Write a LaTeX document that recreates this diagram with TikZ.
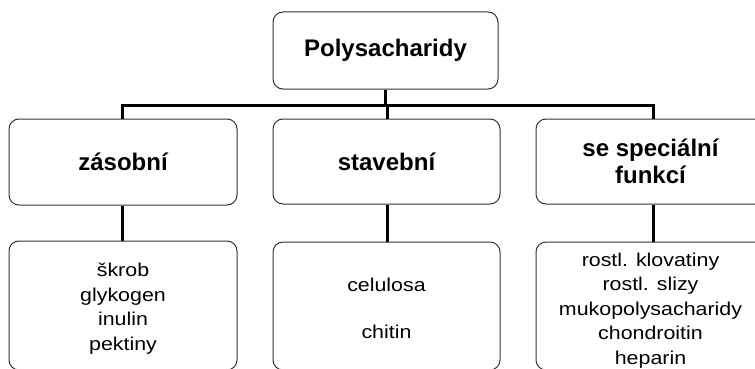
\documentclass[tikz,border=0pt]{standalone}
\usepackage{fontspec}
\setmainfont{Liberation Sans}
\newfontfamily\listfont[FakeStretch=1.15]{Liberation Sans}
\tikzset{
  box/.style={draw=black!80, line width=1pt, rounded corners=10pt, inner sep=0pt, align=center, fill=white},
  head/.style={font=\fontsize{24}{27}\selectfont\bfseries},
  lst/.style={font=\listfont\fontsize{18.6}{24.5}\selectfont},
  conn/.style={line width=3pt, black}
}
\begin{document}
\begin{tikzpicture}[x=1pt,y=-1pt]
\useasboundingbox (0,0) rectangle (755,369);
\clip (0,0) rectangle (755,369);
% top
\node[box, head, minimum width=225pt, minimum height=77pt] (top) at (385.5,50.5) {Polysacharidy};
% middle row
\node[box, head, minimum width=228pt, minimum height=86pt] (lm) at (123,162) {zásobní};
\node[box, head, minimum width=227pt, minimum height=85pt] (mm) at (386.5,161.5) {stavební};
\node[box, head, minimum width=229pt, minimum height=85pt] (rm) at (650.5,161.5) {se speciální\\funkcí};
% bottom row
\node[box, lst, minimum width=228pt, minimum height=129pt] (lb) at (123,305.5) {\rule{0pt}{20pt}škrob\\glykogen\\inulin\\pektiny};
\node[box, lst, minimum width=227pt, minimum height=128pt] (mb) at (386.5,306) {\rule{0pt}{18pt}celulosa\\[22pt]chitin};
\node[box, lst, minimum width=229pt, minimum height=128pt] (rb) at (650.5,306) {\rule{0pt}{22pt}rostl. klovatiny\\rostl. slizy\\mukopolysacharidy\\chondroitin\\heparin};
% connectors
\coordinate (bl) at (122,105.5);
\coordinate (bm) at (387,105.5);
\coordinate (br) at (653,105.5);
\draw[conn] (top.south) -- (top.south |- bl);
\draw[conn] ([xshift=-1.5pt]bl) -- ([xshift=1.5pt]br);
\draw[conn] ([yshift=-1.5pt]bl) -- (bl |- lm.north);
\draw[conn] (bm) -- (bm |- mm.north);
\draw[conn] ([yshift=-1.5pt]br) -- (br |- rm.north);
\draw[conn] (bl |- lm.south) -- (bl |- lb.north);
\draw[conn] (bm |- mm.south) -- (bm |- mb.north);
\draw[conn] (br |- rm.south) -- (br |- rb.north);
\end{tikzpicture}
\end{document}
